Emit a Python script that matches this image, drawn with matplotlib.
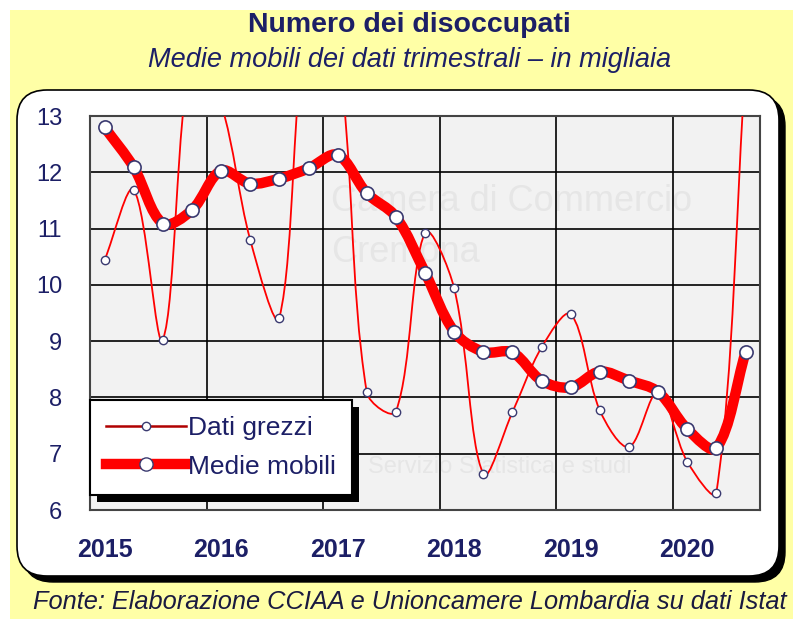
import matplotlib
matplotlib.use("Agg")
import matplotlib.pyplot as plt
from matplotlib.path import Path
from matplotlib.patches import PathPatch, FancyBboxPatch, Rectangle
from matplotlib.lines import Line2D
import matplotlib.patheffects as pe
from matplotlib.ticker import FixedLocator, NullFormatter

plt.rcParams['font.family'] = ['Liberation Sans', 'DejaVu Sans']

# quarters 2015 Q1 .. 2020 Q3
years = ['2015', '2016', '2017', '2018', '2019', '2020']
dati_grezzi = [10.44, 11.69, 9.03, 14.17, 13.22, 10.80, 9.42, 14.89, 14.14, 8.09,
               7.75, 10.93, 9.94, 6.64, 7.74, 8.89, 9.48, 7.77, 7.12, 8.10,
               6.86, 6.31, 13.92]
medie_mobili = [12.80, 12.09, 11.09, 11.33, 12.03, 11.80, 11.89, 12.07, 12.31, 11.63,
                11.21, 10.22, 9.17, 8.81, 8.80, 8.30, 8.18, 8.46, 8.30, 8.10,
                7.44, 7.10, 8.80]

navy = '#1c1f66'
red = '#ff0000'
marker_edge = '#3a3a70'


def smooth_path(xs, ys, sx=29.0, sy=56.3):
    # Excel-like smoothed line: bezier whose handles scale with neighbouring segment lengths
    n = len(xs)

    def dist(a, b):
        return (((xs[b] - xs[a]) * sx) ** 2 + ((ys[b] - ys[a]) * sy) ** 2) ** 0.5

    verts = [(xs[0], ys[0])]
    codes = [Path.MOVETO]
    for i in range(n - 1):
        p0 = max(i - 1, 0)
        p3 = min(i + 2, n - 1)
        d01 = dist(p0, i)
        d12 = dist(i, i + 1)
        d23 = dist(i + 1, p3)
        f1 = d12 / (d01 + d12) / 3 if d01 + d12 > 0 else 0
        f2 = d12 / (d12 + d23) / 3 if d12 + d23 > 0 else 0
        c1 = (xs[i] + (xs[i + 1] - xs[p0]) * f1, ys[i] + (ys[i + 1] - ys[p0]) * f1)
        c2 = (xs[i + 1] - (xs[p3] - xs[i]) * f2, ys[i + 1] - (ys[p3] - ys[i]) * f2)
        verts += [c1, c2, (xs[i + 1], ys[i + 1])]
        codes += [Path.CURVE4] * 3
    return Path(verts, codes)


fig = plt.figure(figsize=(7.93, 6.19), dpi=100)
fig.patch.set_facecolor('white')

# yellow backdrop
fig.patches.append(Rectangle((10 / 793, 0), 1, 1 - 10 / 619, transform=fig.transFigure,
                             facecolor='#ffffa6', edgecolor='none', zorder=-3))
# rounded white panel with black shadow
px = fig.dpi_scale_trans
fig.patches.append(FancyBboxPatch((0.23, 0.37), 7.62, 4.86,
                                  boxstyle='round,pad=0,rounding_size=0.3',
                                  transform=px, facecolor='black', edgecolor='black',
                                  zorder=-2))
fig.patches.append(FancyBboxPatch((0.17, 0.43), 7.62, 4.86,
                                  boxstyle='round,pad=0,rounding_size=0.3',
                                  transform=px, facecolor='white', edgecolor='black',
                                  linewidth=1.2, zorder=-1))

ax = fig.add_axes([0.1135, 0.176, 0.845, 0.6365])
ax.set_facecolor('#f2f2f2')
x = list(range(len(dati_grezzi)))

ax.add_patch(PathPatch(smooth_path(x, dati_grezzi), facecolor='none', edgecolor=red,
                       linewidth=1.3, zorder=3))
ax.plot(x, dati_grezzi, linestyle='none', marker='o', markersize=6,
        markerfacecolor='white', markeredgecolor=marker_edge, markeredgewidth=1.0, zorder=4)

ax.add_patch(PathPatch(smooth_path(x, medie_mobili), facecolor='none', edgecolor=red,
                       linewidth=7.5, capstyle='round', joinstyle='round', zorder=5))
ax.plot(x, medie_mobili, linestyle='none', marker='o', markersize=9.5,
        markerfacecolor='white', markeredgecolor=marker_edge, markeredgewidth=1.2, zorder=6)

# faint watermark
ax.text(0.36, 0.76, 'Camera di Commercio', transform=ax.transAxes, fontsize=26,
        color='#e6e6e6', zorder=0.5)
ax.text(0.36, 0.63, 'Cremona', transform=ax.transAxes, fontsize=26,
        color='#e6e6e6', zorder=0.5)
ax.text(0.415, 0.095, 'Servizio Statistica e studi', transform=ax.transAxes, fontsize=17,
        color='#e6e6e6', zorder=0.5)

ax.set_xlim(-0.5, len(x) - 0.5)
ax.set_ylim(6, 13)
ax.set_yticks(range(6, 14))
ax.set_xticks([4 * k for k in range(len(years))])
ax.set_xticklabels(years, fontsize=18, fontweight='bold', color=navy)
ax.xaxis.set_minor_locator(FixedLocator([4 * k - 0.5 for k in range(1, len(years))]))
ax.xaxis.set_minor_formatter(NullFormatter())
ax.tick_params(axis='y', labelsize=17, labelcolor=navy, length=0, pad=20)
ax.tick_params(axis='x', which='both', length=0, pad=20)
ax.grid(True, axis='y', color='black', linewidth=1.2, zorder=1)
ax.grid(True, axis='x', which='minor', color='black', linewidth=1.2, zorder=1)
ax.set_axisbelow(True)
for s in ax.spines.values():
    s.set_color('#444444')
    s.set_linewidth(1.5)

handles = [
    Line2D([], [], color='#b00000', linewidth=1.8, marker='o', markersize=6,
           markerfacecolor='white', markeredgecolor=marker_edge),
    Line2D([], [], color=red, linewidth=7.5, marker='o', markersize=9.5,
           markerfacecolor='white', markeredgecolor=marker_edge),
]
leg = ax.legend(handles, ['Dati grezzi', 'Medie mobili'], loc='lower left',
                bbox_to_anchor=(0.0, 0.038), borderaxespad=0, fontsize=19,
                handlelength=3.0, handletextpad=0.1, labelspacing=0.55, borderpad=0.62,
                fancybox=False, framealpha=1, edgecolor='black')
leg.get_frame().set_linewidth(1.5)
leg.get_frame().set_path_effects([pe.SimplePatchShadow(offset=(5, -5), shadow_rgbFace='black',
                                                       alpha=1), pe.Normal()])
for t in leg.get_texts():
    t.set_color(navy)
leg.set_zorder(10)

fig.text(0.516, 0.959, 'Numero dei disoccupati', ha='center', va='center',
         fontsize=20.5, fontweight='bold', color=navy)
fig.text(0.517, 0.903, 'Medie mobili dei dati trimestrali \u2013 in migliaia', ha='center',
         va='center', fontsize=19.5, fontstyle='italic', color=navy)
fig.text(0.517, 0.027, 'Fonte: Elaborazione CCIAA e Unioncamere Lombardia su dati Istat',
         ha='center', va='center', fontsize=18.3, fontstyle='italic', color='#1a1a40')

fig.savefig('out.png', dpi=100)
